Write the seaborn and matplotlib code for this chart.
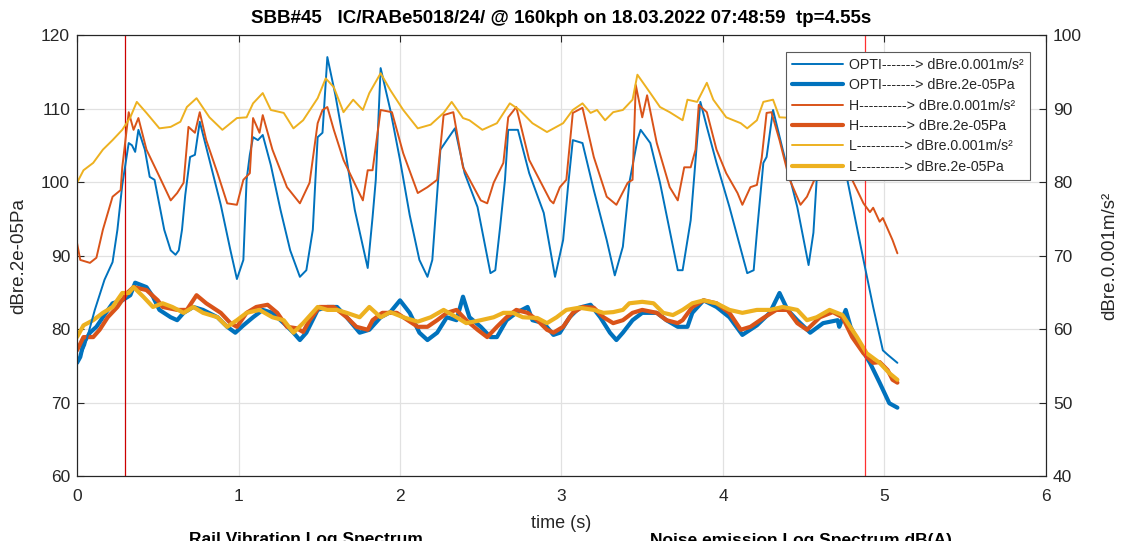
import numpy as np
import pandas as pd
import matplotlib
matplotlib.use("Agg")
import matplotlib.pyplot as plt
import seaborn as sns
from matplotlib.lines import Line2D

# ---------------- data ----------------
# thin lines: right axis (dBre.0.001m/s²)
t_opti_acc = [0.00,0.05,0.11,0.17,0.22,0.25,0.28,0.32,0.34,0.36,0.38,0.42,0.45,0.48,0.51,0.54,0.58,0.61,0.63,0.65,
              0.67,0.70,0.73,0.76,0.82,0.89,0.95,0.99,1.03,1.05,1.07,1.09,1.12,1.15,1.20,1.26,1.32,1.38,1.42,1.46,
              1.49,1.52,1.55,1.60,1.66,1.72,1.80,1.83,1.85,1.88,1.94,2.00,2.06,2.12,2.17,2.20,2.25,2.29,2.34,2.40,
              2.48,2.56,2.59,2.62,2.65,2.67,2.73,2.80,2.89,2.96,3.01,3.04,3.07,3.13,3.20,3.28,3.33,3.38,3.42,3.47,
              3.49,3.55,3.61,3.72,3.75,3.80,3.84,3.86,3.90,3.96,4.04,4.15,4.19,4.21,4.25,4.27,4.31,4.37,4.46,4.53,
              4.56,4.58,4.61,4.66,4.72,4.77,4.87,4.93,4.99,5.02,5.08]
v_opti_acc = [55.4,57.8,62.6,66.7,69.1,73.5,79.6,85.3,85.0,84.1,87.1,84.4,80.7,80.3,76.9,73.5,70.7,70.1,70.7,73.5,
              78.2,83.4,83.7,88.2,83.0,76.9,70.7,66.8,69.4,80.3,83.7,86.1,85.7,86.4,82.3,76.2,70.7,67.1,68.0,73.5,
              86.1,86.7,97.0,91.8,84.4,76.2,68.3,75.2,80.3,95.5,89.8,83.0,75.5,69.4,67.1,69.4,84.4,85.7,87.3,81.2,
              76.6,67.6,68.0,73.9,80.3,87.1,87.1,81.2,75.8,67.1,72.1,79.3,85.7,85.3,78.9,72.1,67.3,71.2,79.9,85.7,
              87.1,85.3,79.9,68.0,68.0,74.8,85.7,90.9,87.5,82.6,76.6,67.6,68.0,73.1,82.6,83.4,89.8,84.4,76.6,68.7,
              73.1,80.3,85.7,89.1,85.7,80.3,69.4,63.0,57.1,56.5,55.4]

t_h_acc = [0.00,0.02,0.08,0.12,0.16,0.22,0.27,0.28,0.32,0.35,0.38,0.43,0.50,0.58,0.62,0.66,0.69,0.73,0.76,0.80,
           0.87,0.93,0.99,1.03,1.07,1.09,1.13,1.15,1.21,1.30,1.38,1.44,1.49,1.52,1.55,1.59,1.65,1.73,1.77,1.80,
           1.83,1.88,1.95,2.02,2.11,2.17,2.23,2.27,2.33,2.39,2.50,2.54,2.58,2.64,2.67,2.72,2.80,2.93,2.95,2.99,
           3.03,3.07,3.13,3.20,3.28,3.34,3.41,3.44,3.46,3.50,3.53,3.59,3.67,3.72,3.76,3.80,3.83,3.85,3.90,3.96,
           4.02,4.09,4.12,4.17,4.21,4.24,4.27,4.30,4.35,4.41,4.48,4.52,4.57,4.61,4.67,4.76,4.80,4.87,4.91,4.93,
           4.97,4.99,5.05,5.08]
v_h_acc = [71.7,69.4,69.0,69.7,73.5,78.0,78.9,82.0,89.5,87.1,88.7,84.4,81.2,77.5,78.5,79.9,87.5,86.7,89.5,85.7,
           81.2,77.1,76.9,80.3,81.2,88.7,86.7,89.1,84.4,79.3,77.1,79.9,88.0,89.8,90.2,87.1,83.0,79.3,77.5,81.6,
           81.6,89.8,89.5,83.9,78.5,79.3,80.3,89.1,89.5,82.0,77.5,77.1,79.9,82.6,88.8,90.2,83.0,77.5,77.1,79.3,
           80.3,89.4,90.1,83.4,78.0,76.9,79.9,80.3,93.2,88.8,91.8,85.3,79.3,77.5,82.0,82.0,84.4,90.5,89.5,84.4,
           81.2,78.5,76.9,79.3,79.6,83.3,89.4,89.5,85.7,80.5,76.9,78.0,80.5,89.1,89.5,83.0,80.3,77.1,75.9,76.5,
           74.6,75.1,72.1,70.3]

t_l_acc = [0.00,0.04,0.10,0.16,0.22,0.28,0.33,0.37,0.43,0.51,0.58,0.64,0.68,0.74,0.82,0.90,0.99,1.05,1.09,1.15,
           1.20,1.28,1.34,1.40,1.49,1.54,1.59,1.65,1.71,1.77,1.81,1.88,1.94,2.02,2.11,2.19,2.27,2.32,2.39,2.43,
           2.51,2.60,2.68,2.74,2.82,2.91,3.01,3.07,3.13,3.18,3.22,3.27,3.32,3.38,3.44,3.47,3.55,3.61,3.67,3.75,
           3.78,3.84,3.90,3.94,4.02,4.11,4.15,4.21,4.25,4.31,4.35,4.45,4.57,4.69,4.82,4.94,5.08]
v_l_acc = [79.9,81.6,82.6,84.4,85.7,87.1,88.8,90.9,89.4,87.3,87.5,88.2,90.2,91.4,88.8,87.1,88.7,88.8,90.7,92.1,
           89.8,89.4,87.3,88.4,91.4,94.1,92.9,89.5,91.2,89.8,92.1,94.8,92.5,89.8,87.3,87.8,89.4,90.9,88.7,88.4,
           87.1,88.0,90.7,89.8,88.0,86.8,88.0,89.8,90.7,89.4,89.8,88.4,89.5,89.8,91.2,94.6,92.1,90.2,89.5,88.4,
           91.2,90.9,93.5,91.2,88.8,88.0,87.3,88.4,90.9,91.2,88.8,88.7,90.1,89.5,87.6,85.5,83.0]

# thick lines: left axis (dBre.2e-05Pa)
t_opti_pa = [0.00,0.02,0.04,0.08,0.12,0.16,0.22,0.28,0.33,0.36,0.43,0.47,0.51,0.58,0.62,0.66,0.72,0.78,0.87,0.93,
             0.98,1.03,1.09,1.15,1.21,1.28,1.34,1.38,1.42,1.49,1.55,1.61,1.67,1.75,1.81,1.88,1.94,2.00,2.06,2.12,
             2.17,2.23,2.29,2.35,2.39,2.43,2.50,2.56,2.60,2.66,2.72,2.79,2.82,2.89,2.95,2.99,3.05,3.11,3.18,3.24,
             3.30,3.34,3.38,3.44,3.50,3.59,3.65,3.72,3.78,3.81,3.88,3.96,4.04,4.12,4.21,4.29,4.35,4.40,4.46,4.54,
             4.62,4.71,4.72,4.76,4.79,4.85,4.91,4.97,5.03,5.08]
v_opti_pa = [75.4,76.2,78.1,79.5,80.3,81.6,83.5,83.9,84.6,86.3,85.7,84.4,82.6,81.6,81.2,82.2,83.0,82.6,81.6,80.3,
             79.5,80.5,81.6,82.6,82.2,80.8,79.5,78.5,79.5,82.6,83.0,83.0,81.6,79.5,79.9,81.6,82.3,83.9,82.2,79.5,
             78.5,79.5,81.6,81.2,84.4,81.6,80.3,78.9,78.9,81.2,82.2,83.0,81.2,80.8,79.2,79.5,81.6,82.9,83.3,81.6,
             79.5,78.5,79.5,81.2,82.2,82.2,81.2,80.3,80.3,82.2,83.9,83.0,81.6,79.2,80.5,82.2,84.9,82.6,81.2,79.5,
             80.8,81.2,80.3,82.6,80.3,77.6,75.4,72.7,69.9,69.3]

t_h_pa = [0.00,0.04,0.10,0.14,0.19,0.25,0.31,0.35,0.43,0.50,0.53,0.62,0.68,0.74,0.80,0.89,0.95,0.99,1.05,1.11,
          1.18,1.24,1.30,1.36,1.40,1.44,1.50,1.59,1.67,1.73,1.80,1.83,1.89,1.98,2.02,2.11,2.17,2.23,2.29,2.35,
          2.41,2.48,2.54,2.60,2.66,2.72,2.79,2.85,2.91,2.95,3.01,3.07,3.13,3.20,3.26,3.32,3.38,3.44,3.50,3.59,
          3.65,3.72,3.75,3.81,3.88,3.96,4.04,4.11,4.17,4.25,4.33,4.40,4.46,4.52,4.60,4.68,4.74,4.80,4.87,4.93,
          4.97,5.02,5.05,5.08]
v_h_pa = [77.1,78.9,78.9,79.9,81.6,83.0,84.9,85.7,85.3,83.9,83.0,82.6,82.6,84.6,83.5,82.2,80.8,80.3,82.2,83.0,
          83.3,82.2,80.3,80.1,79.6,81.2,83.0,83.0,81.6,80.3,79.9,81.2,82.2,82.2,81.6,80.3,80.3,81.2,82.2,82.6,
          81.2,79.9,78.9,80.3,81.6,82.6,82.2,81.2,79.9,79.5,80.3,82.2,83.0,82.9,81.6,80.8,81.2,82.2,82.6,82.2,
          81.2,80.8,81.2,83.0,83.9,83.5,82.2,79.9,80.3,81.5,82.6,82.6,80.8,79.9,81.6,82.3,81.6,78.9,76.7,75.4,
          75.5,74.4,73.1,72.7]

t_l_pa = [0.00,0.04,0.10,0.16,0.22,0.28,0.32,0.35,0.41,0.47,0.53,0.59,0.66,0.72,0.78,0.87,0.93,0.99,1.05,1.13,
          1.21,1.28,1.34,1.40,1.49,1.55,1.61,1.67,1.75,1.81,1.88,1.94,2.02,2.11,2.19,2.27,2.35,2.41,2.50,2.58,
          2.64,2.70,2.76,2.85,2.91,2.97,3.03,3.11,3.20,3.26,3.32,3.38,3.42,3.50,3.57,3.63,3.69,3.75,3.81,3.88,
          3.96,4.04,4.12,4.21,4.29,4.37,4.46,4.52,4.58,4.66,4.74,4.83,4.89,4.97,5.03,5.08]
v_l_pa = [78.9,80.5,81.2,82.2,83.0,84.9,84.9,85.7,84.4,83.0,83.5,83.0,82.2,83.0,82.2,81.6,80.3,81.2,82.2,82.6,
          81.6,81.2,79.5,80.8,83.0,82.6,82.6,82.2,81.6,83.0,81.6,82.3,81.6,81.0,81.6,82.6,81.6,80.8,81.2,81.6,
          82.2,82.2,81.6,81.5,80.8,81.6,82.6,82.9,82.6,82.2,82.3,82.6,83.5,83.7,83.5,82.2,81.9,82.6,83.5,83.9,
          83.5,82.6,82.2,82.6,82.6,83.0,82.6,81.2,81.6,82.6,81.9,78.9,76.7,75.4,74.0,73.1]

marker_times = [0.297, 4.879]
x_ticks = [0, 1, 2, 3, 4, 5, 6]
left_ticks = [60, 70, 80, 90, 100, 110, 120]
right_ticks = [40, 50, 60, 70, 80, 90, 100]

title = "SBB#45   IC/RABe5018/24/ @ 160kph on 18.03.2022 07:48:59  tp=4.55s"
labels = ["OPTI-------> dBre.0.001m/s\u00b2", "OPTI-------> dBre.2e-05Pa",
          "H----------> dBre.0.001m/s\u00b2", "H----------> dBre.2e-05Pa",
          "L----------> dBre.0.001m/s\u00b2", "L----------> dBre.2e-05Pa"]

# ---------------- style ----------------
sns.set_theme(style="white")
plt.rcParams["font.family"] = ["Liberation Sans", "DejaVu Sans"]
C_BLUE, C_ORANGE, C_YELLOW = "#0072BD", "#D95319", "#EDB120"
TXT = "#262626"

fig = plt.figure(figsize=(11.23, 5.41), dpi=100)
ax = fig.add_axes([0.0686, 0.1201, 0.8628, 0.8152])
ax2 = ax.twinx()

thin_lw, thick_lw = 1.4, 3.0

# thick lines on the left axis
for tt, vv, c in [(t_opti_pa, v_opti_pa, C_BLUE), (t_h_pa, v_h_pa, C_ORANGE), (t_l_pa, v_l_pa, C_YELLOW)]:
    sns.lineplot(x=tt, y=vv, ax=ax, color=c, lw=thick_lw, estimator=None, sort=False)
# thin lines on the right axis
for tt, vv, c in [(t_opti_acc, v_opti_acc, C_BLUE), (t_h_acc, v_h_acc, C_ORANGE), (t_l_acc, v_l_acc, C_YELLOW)]:
    sns.lineplot(x=tt, y=vv, ax=ax2, color=c, lw=thin_lw, estimator=None, sort=False)

ax.axvline(marker_times[0], color="#cc0000", lw=0.9)
ax.axvline(marker_times[1], color="#ff3030", lw=0.9)

ax.set_xlim(0, 6)
ax.set_ylim(60, 120)
ax2.set_ylim(40, 100)
ax.set_xticks(x_ticks)
ax.set_yticks(left_ticks)
ax2.set_yticks(right_ticks)
ax.grid(True, color="#e1e1e1", lw=0.9)
ax2.grid(False)
ax.set_axisbelow(True)

for a in (ax, ax2):
    for s in a.spines.values():
        s.set_color(TXT)
        s.set_linewidth(0.8)
ax.tick_params(axis="both", direction="in", length=5, width=0.8, colors=TXT, labelsize=12.5,
               top=True, labeltop=False, pad=5)
ax.tick_params(axis="x", pad=9)
ax.tick_params(axis="y", left=True, right=False)
ax2.tick_params(axis="y", direction="in", length=5, width=0.8, colors=TXT, labelsize=12.5, pad=5)

ax.set_xlabel("time (s)", fontsize=13, color=TXT, labelpad=8)
ax.set_ylabel("dBre.2e-05Pa", fontsize=13.5, color=TXT, labelpad=10)
ax2.set_ylabel("dBre.0.001m/s\u00b2", fontsize=13.5, color=TXT, labelpad=14)
ax.set_title(title, fontsize=13.5, fontweight="bold", color="black", pad=9)

handles = []
for c in (C_BLUE, C_ORANGE, C_YELLOW):
    handles.append(Line2D([], [], color=c, lw=thin_lw))
    handles.append(Line2D([], [], color=c, lw=thick_lw))
leg = ax2.legend(handles, labels, loc="upper right", bbox_to_anchor=(0.9835, 0.9615), borderaxespad=0,
                 fontsize=10.2, frameon=True, fancybox=False, edgecolor="#5a5a5a", framealpha=1,
                 handlelength=3.6, labelspacing=0.45, borderpad=0.42, handletextpad=0.45)
leg.get_frame().set_linewidth(0.8)

fig.text(0.272, 0.017, "Rail Vibration Log Spectrum", fontsize=12.5, fontweight="bold", ha="center", va="top", color="black")
fig.text(0.713, 0.014, "Noise emission Log Spectrum dB(A)", fontsize=12.5, fontweight="bold", ha="center", va="top", color="black")

fig.savefig("out.png", dpi=100)
